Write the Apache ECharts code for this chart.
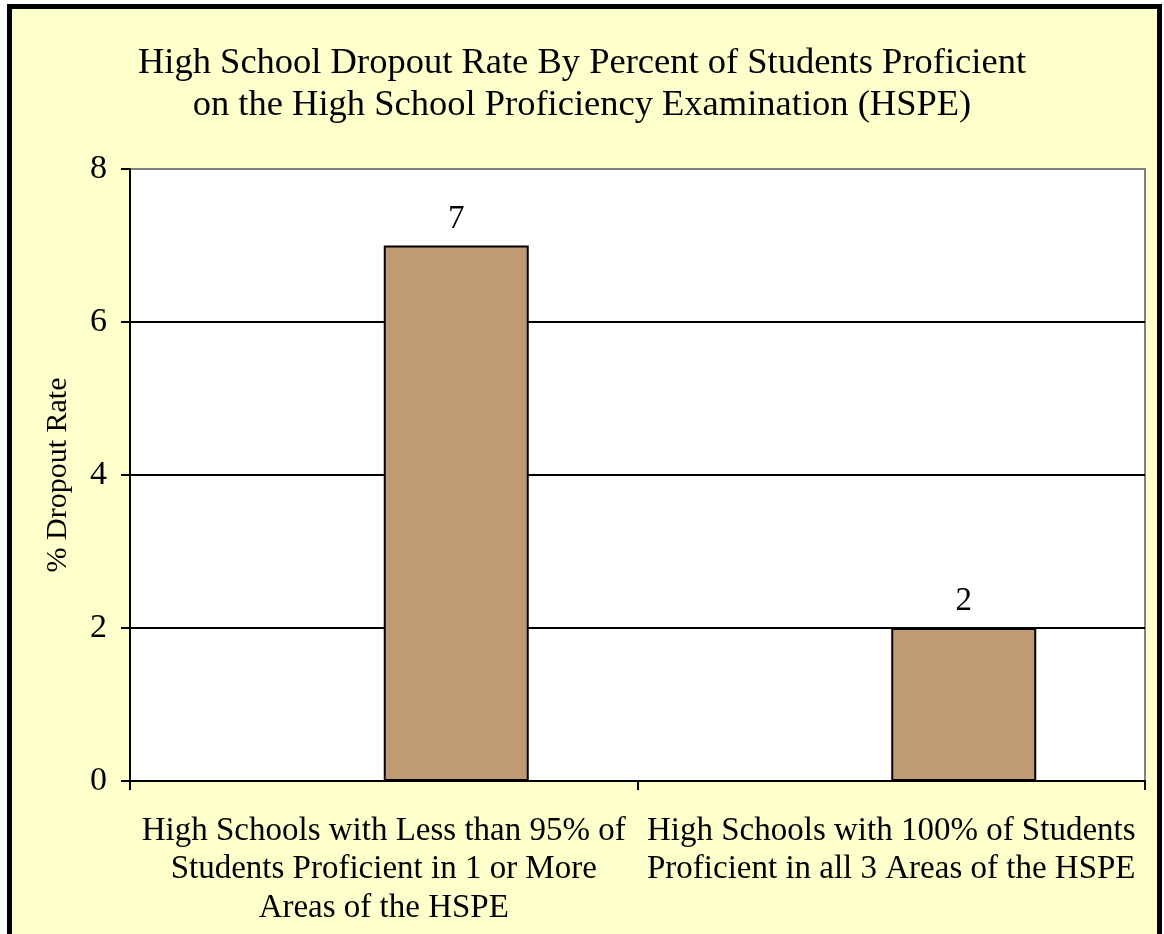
<!DOCTYPE html>
<html>
<head>
<meta charset="utf-8">
<script src="https://cdn.jsdelivr.net/npm/echarts@6/dist/echarts.min.js"></script>
<style>
  html, body { margin: 0; padding: 0; background: #fff; }
  #chart { width: 1164px; height: 934px; }
</style>
</head>
<body>
<div id="chart"></div>
<script>
// categories and values
var categories = [
    'High Schools with Less than 95% of\nStudents Proficient in 1 or More\nAreas of the HSPE',
    'High Schools with 100% of Students\nProficient in all 3 Areas of the HSPE'
];
var dropoutRate = [7, 2];
var emptySeries = [null, null]; // the picture leaves the first slot of each category empty
var yTicks = [0, 2, 4, 6, 8];

var myChart = echarts.init(document.getElementById('chart'));
var serif = '"Liberation Serif", "Times New Roman", serif';
var option = {
    backgroundColor: '#ffffff',
    textStyle: { fontFamily: serif, color: '#000' },
    title: {
        text: 'High School Dropout Rate By Percent of Students Proficient\non the High School Proficiency Examination (HSPE)',
        left: 'center',
        top: 37,
        textStyle: {
            fontFamily: serif,
            fontWeight: 'normal',
            fontSize: 36.5,
            lineHeight: 42,
            color: '#000'
        }
    },
    graphic: [{
        type: 'rect',
        z: -1,
        shape: { x: 9.5, y: 6.5, width: 1150, height: 1000 },
        style: { fill: '#ffffcc', stroke: '#000', lineWidth: 5 }
    }],
    grid: {
        left: 130,
        top: 169,
        right: 19,
        bottom: 153,
        show: true,
        backgroundColor: '#ffffff',
        borderColor: '#808080',
        borderWidth: 2
    },
    xAxis: {
        type: 'category',
        data: categories,
        axisLine: { lineStyle: { color: '#000', width: 2 } },
        axisTick: { show: true, length: 9, lineStyle: { color: '#000', width: 2 } },
        axisLabel: {
            interval: 0,
            margin: 31,
            fontFamily: serif,
            fontSize: 33,
            lineHeight: 38.5,
            color: '#000'
        }
    },
    yAxis: {
        type: 'value',
        min: yTicks[0],
        max: yTicks[yTicks.length - 1],
        interval: 2,
        name: '% Dropout Rate',
        nameLocation: 'middle',
        nameGap: 57,
        nameTextStyle: { fontFamily: serif, fontSize: 30, color: '#000' },
        axisLine: { show: true, lineStyle: { color: '#000', width: 2 } },
        axisTick: { show: true, length: 9, lineStyle: { color: '#000', width: 2 } },
        axisLabel: { margin: 23, fontFamily: serif, fontSize: 34, color: '#000' },
        splitLine: {
            show: true,
            showMaxLine: false,
            lineStyle: { color: '#000', width: 2 }
        }
    },
    series: [{
            name: 'blank',
            type: 'bar',
            data: emptySeries,
            barGap: 0,
            barCategoryGap: '42.86%'
        },
        {
            name: '% Dropout Rate',
            type: 'bar',
            data: dropoutRate,
            barGap: 0,
            barCategoryGap: '42.86%',
            itemStyle: { color: '#c09a72', borderColor: '#000', borderWidth: 2 },
            label: {
                show: true,
                position: 'top',
                distance: 10,
                fontFamily: serif,
                fontSize: 33,
                color: '#000'
            }
        }
    ]
};
option && myChart.setOption(option);
</script>
</body>
</html>
